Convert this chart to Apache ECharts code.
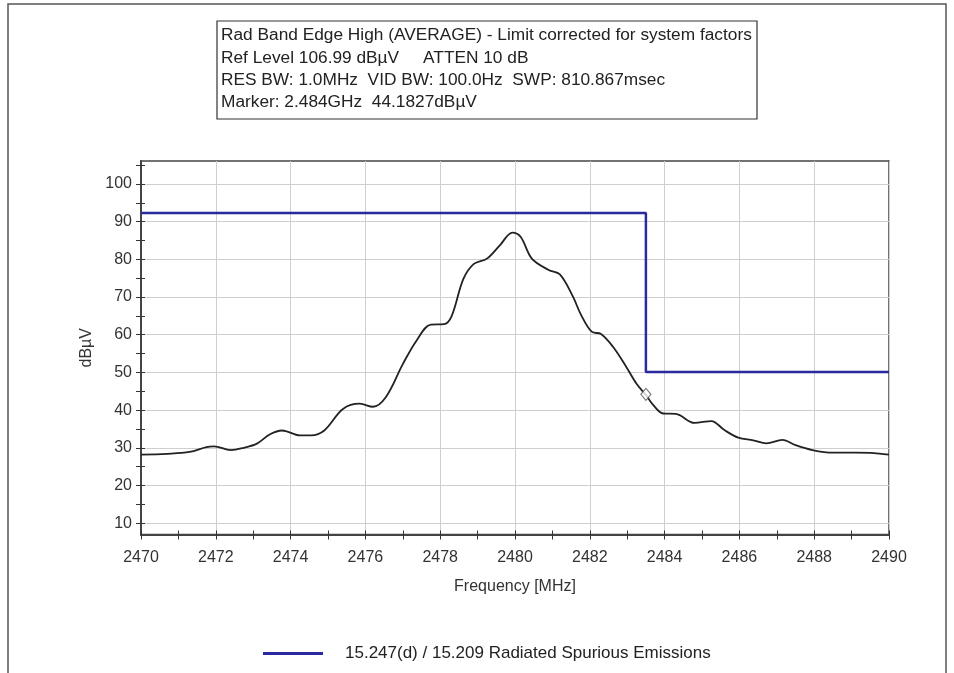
<!DOCTYPE html>
<html>
<head>
<meta charset="utf-8">
<script src="https://cdn.jsdelivr.net/npm/echarts@6/dist/echarts.min.js"></script>
<style>
html,body{margin:0;padding:0;background:#fff;}
#chart{width:954px;height:673px;}
</style>
</head>
<body>
<div id="chart"></div>
<script>
// ---- data ----
const traceFreq = [2470.0,2470.7,2471.3,2471.75,2471.95,2472.4,2472.75,2473.1,2473.45,2473.77,2474.25,2474.55,2474.9,2475.4,2475.85,2476.2,2476.55,2477.0,2477.37,2477.75,2478.1,2478.3,2478.62,2478.9,2479.25,2479.6,2479.93,2480.15,2480.45,2480.9,2481.2,2481.55,2481.75,2482.05,2482.3,2482.62,2482.98,2483.25,2483.5,2483.7,2483.96,2484.3,2484.8,2485.25,2485.6,2485.97,2486.37,2486.72,2487.15,2487.5,2487.95,2488.5,2489.1,2489.6,2490.0];
const traceLevel = [28.2,28.4,28.9,30.2,30.4,29.4,30.0,31.1,33.6,34.6,33.3,33.3,34.6,40.3,41.7,40.9,43.5,52.2,58.5,62.7,62.8,64.8,74.8,78.8,80.2,83.8,87.1,86.0,80.2,77.2,76.0,70.1,65.6,60.8,60.2,56.8,51.4,47.0,44.0,41.3,39.1,39.0,36.6,37.1,34.7,32.7,32.0,31.2,32.1,30.7,29.4,28.7,28.7,28.6,28.2];
const limitFreq = [2470, 2483.5, 2483.5, 2490];
const limitLevel = [92.3, 92.3, 50.1, 50.1];
const markerFreq = [2483.5];
const markerLevel = [44.18];
const yTickValues = [10,15,20,25,30,35,40,45,50,55,60,65,70,75,80,85,90,95,100,105];
const yLabelValues = [10,20,30,40,50,60,70,80,90,100];
const infoLines = [
  'Rad Band Edge High (AVERAGE) - Limit corrected for system factors',
  'Ref Level 106.99 dB\u00b5V     ATTEN 10 dB',
  'RES BW: 1.0MHz  VID BW: 100.0Hz  SWP: 810.867msec',
  'Marker: 2.484GHz  44.1827dB\u00b5V'
];
const limitName = '15.247(d) / 15.209 Radiated Spurious Emissions';
const xName = 'Frequency [MHz]';
const yName = 'dB\u00b5V';

const FONT = '"Liberation Sans", Arial, sans-serif';
const chart = echarts.init(document.getElementById('chart'), null, {renderer: 'canvas'});
const gridRect = {left: 141, right: 65, top: 161, bottom: 138.5};
const yMin = 7, yMax = 106.1;

const infoText = infoLines.map((t, i) => ({
  type: 'text', left: 221, top: 27 + i * 22.4,
  style: {text: t, font: '17.3px ' + FONT, fill: '#222'}
}));

chart.setOption({
  animation: false,
  backgroundColor: '#fff',
  grid: [
    Object.assign({show: true, borderColor: '#444', borderWidth: 1.5, backgroundColor: 'transparent', containLabel: false}, gridRect),
    Object.assign({show: false, containLabel: false}, gridRect)
  ],
  graphic: [
    {type: 'rect', shape: {x: 8, y: 4, width: 938, height: 720}, style: {fill: 'none', stroke: '#555', lineWidth: 1.5}, silent: true},
    {type: 'rect', shape: {x: 217, y: 21, width: 540, height: 98}, style: {fill: '#fff', stroke: '#333', lineWidth: 1.2}, silent: true}
  ].concat(infoText),
  legend: {
    left: 258, top: 640,
    data: [limitName],
    icon: 'rect', itemWidth: 60, itemHeight: 3,
    textStyle: {fontFamily: FONT, fontSize: 17, color: '#222', padding: [0, 0, 0, 17]},
    selectedMode: false
  },
  xAxis: [
    {
      type: 'value', gridIndex: 0, min: 2470, max: 2490, interval: 2,
      position: 'bottom',
      name: xName, nameLocation: 'middle', nameGap: 44,
      nameTextStyle: {fontFamily: FONT, fontSize: 16, color: '#333'},
      axisLine: {show: true, onZero: false, lineStyle: {color: '#444', width: 2}},
      axisTick: {show: true, length: 5, lineStyle: {color: '#333'}},
      minorTick: {show: true, splitNumber: 2, length: 5, lineStyle: {color: '#333'}},
      axisLabel: {fontFamily: FONT, fontSize: 16, color: '#333', margin: 15,
        formatter: v => String(v)},
      splitLine: {show: true, lineStyle: {color: '#cfcfcf', width: 1}}
    },
    {
      type: 'value', gridIndex: 1, min: 2470, max: 2490, interval: 1,
      position: 'bottom',
      axisLine: {show: false, onZero: false},
      axisTick: {show: true, inside: true, length: 4, lineStyle: {color: '#333'}},
      axisLabel: {show: false},
      splitLine: {show: false}
    }
  ],
  yAxis: [
    {
      type: 'value', gridIndex: 0, min: yMin, max: yMax, position: 'left',
      name: yName, nameLocation: 'middle', nameGap: 44, nameRotate: 90,
      nameTextStyle: {fontFamily: FONT, fontSize: 16, color: '#333'},
      axisLine: {show: true, onZero: false, lineStyle: {color: '#444', width: 2}},
      axisTick: {show: true, length: 5, customValues: yTickValues, lineStyle: {color: '#333'}},
      axisLabel: {fontFamily: FONT, fontSize: 16, color: '#333', margin: 9, customValues: yLabelValues},
      splitLine: {show: false}
    },
    {
      type: 'value', gridIndex: 0, min: yMin, max: yMax,
      axisLine: {show: false}, axisLabel: {show: false},
      axisTick: {show: false, customValues: yLabelValues},
      splitLine: {show: true, lineStyle: {color: '#cfcfcf', width: 1}}
    },
    {
      type: 'value', gridIndex: 1, min: yMin, max: yMax, position: 'left',
      axisLine: {show: false, onZero: false}, axisLabel: {show: false},
      axisTick: {show: true, inside: true, length: 4, customValues: yTickValues, lineStyle: {color: '#333'}},
      splitLine: {show: false}
    }
  ],
  series: [
    {
      name: 'trace', type: 'line', xAxisIndex: 0, yAxisIndex: 0,
      data: traceFreq.map((f, i) => [f, traceLevel[i]]),
      smooth: 0.35, showSymbol: false, symbol: 'none',
      lineStyle: {color: '#222', width: 1.8}, z: 3, silent: true
    },
    {
      name: limitName, type: 'line', xAxisIndex: 0, yAxisIndex: 0,
      data: limitFreq.map((f, i) => [f, limitLevel[i]]),
      showSymbol: false, symbol: 'none', itemStyle: {color: '#2a2aa0'},
      lineStyle: {color: '#2a2aa0', width: 2.5}, z: 4, silent: true
    },
    {
      name: 'marker', type: 'scatter', xAxisIndex: 0, yAxisIndex: 0,
      data: markerFreq.map((f, i) => [f, markerLevel[i]]),
      symbol: 'diamond', symbolSize: [10, 12],
      itemStyle: {color: '#fff', borderColor: '#555', borderWidth: 1.2}, z: 5, silent: true
    }
  ]
});
</script>
</body>
</html>
